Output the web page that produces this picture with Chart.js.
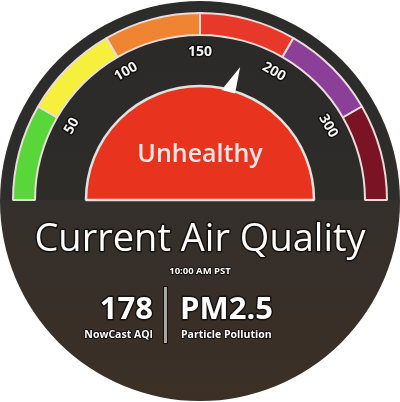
<!DOCTYPE html>
<html>
<head>
<meta charset="utf-8">
<script src="https://cdn.jsdelivr.net/npm/chart.js@4/dist/chart.umd.min.js"></script>
<style>
  html, body { margin: 0; padding: 0; background: #ffffff; }
  #wrap { width: 400px; height: 402px; position: relative; }
</style>
</head>
<body>
<div id="wrap"><canvas id="c" width="400" height="402"></canvas></div>
<script>
// ---- data ----
const categories = ['Good', 'Moderate', 'Unhealthy for Sensitive Groups', 'Unhealthy', 'Very Unhealthy', 'Hazardous'];
const breakpoints = [0, 50, 100, 150, 200, 300, 500];
const segmentSpan = [1, 1, 1, 1, 1, 1];           // each category gets an equal share of the dial
const tickLabels = ['50', '100', '150', '200', '300'];
const segmentColors = ['#58d63a', '#f6f03c', '#ef8533', '#e8382a', '#8b3f98', '#7a1424'];
const currentAQI = 178;
const currentCategory = 'Unhealthy';
const pollutantName = 'PM2.5';
const pollutantDesc = 'Particle Pollution';
const aqiLabel = 'NowCast AQI';
const titleText = 'Current Air Quality';
const timeText = '10:00 AM PST';

function outlinedText(ctx, txt, x, y, font, align, lw) {
  ctx.font = font;
  ctx.textAlign = align;
  ctx.textBaseline = 'alphabetic';
  ctx.lineJoin = 'round';
  ctx.lineWidth = lw;
  ctx.strokeStyle = '#15110e';
  ctx.strokeText(txt, x, y);
  ctx.fillStyle = '#ffffff';
  ctx.fillText(txt, x, y);
}

const facePlugin = {
  id: 'face',
  beforeDraw(chart) {
    const ctx = chart.ctx;
    ctx.save();
    const g = ctx.createLinearGradient(0, 0, 0, 402);
    g.addColorStop(0, '#2e2c2b');
    g.addColorStop(0.45, '#33302d');
    g.addColorStop(0.75, '#382f28');
    g.addColorStop(1, '#3c3026');
    ctx.fillStyle = g;
    ctx.beginPath();
    ctx.arc(200, 201, 200, 0, Math.PI * 2);
    ctx.fill();
    ctx.restore();
  },
  afterDraw(chart) {
    const ctx = chart.ctx;
    const ring = chart.getDatasetMeta(1).data;
    const cx = ring[0].x, cy = ring[0].y;
    ctx.save();
    // tick labels at category boundaries
    tickLabels.forEach((t, i) => {
      const a = ring[i].endAngle;
      const r = 148;
      ctx.save();
      ctx.translate(cx + r * Math.cos(a), cy + r * Math.sin(a));
      ctx.rotate(a + Math.PI / 2);
      ctx.font = '700 14px "Open Sans"';
      ctx.textAlign = 'center';
      ctx.textBaseline = 'middle';
      ctx.lineJoin = 'round';
      ctx.lineWidth = 3;
      ctx.strokeStyle = '#111';
      ctx.strokeText(t, 0, 0);
      ctx.fillStyle = '#f4f4f4';
      ctx.fillText(t, 0, 0);
      ctx.restore();
    });
    // pointer
    let k = 0;
    while (k < breakpoints.length - 2 && currentAQI >= breakpoints[k + 1]) k++;
    const arc = ring[k];
    const frac = (currentAQI - breakpoints[k]) / (breakpoints[k + 1] - breakpoints[k]);
    const ang = arc.startAngle + frac * (arc.endAngle - arc.startAngle);
    const tipR = 139, baseR = 112;
    ctx.fillStyle = '#ffffff';
    ctx.beginPath();
    ctx.moveTo(cx + tipR * Math.cos(ang), cy + tipR * Math.sin(ang));
    ctx.lineTo(cx + baseR * Math.cos(ang + 0.025), cy + baseR * Math.sin(ang + 0.025));
    ctx.lineTo(cx + baseR * Math.cos(ang - 0.10), cy + baseR * Math.sin(ang - 0.10));
    ctx.closePath();
    ctx.fill();
    // category text
    ctx.font = '600 25px "Open Sans"';
    ctx.textAlign = 'center';
    ctx.textBaseline = 'alphabetic';
    ctx.fillStyle = '#fde6e4';
    ctx.fillText(currentCategory, cx, 162);
    // title etc.
    outlinedText(ctx, titleText, 200, 251, '400 38px "Open Sans"', 'center', 3);
    outlinedText(ctx, timeText, 200, 274, '700 9.5px "Open Sans"', 'center', 2);
    outlinedText(ctx, String(currentAQI), 153, 319, '700 31px "Open Sans"', 'right', 3);
    outlinedText(ctx, pollutantName, 180, 319, '700 31px "Open Sans"', 'left', 3);
    outlinedText(ctx, aqiLabel, 153, 338, '700 10.5px "Open Sans"', 'right', 2);
    outlinedText(ctx, pollutantDesc, 181, 338, '700 10.5px "Open Sans"', 'left', 2);
    // divider
    ctx.fillStyle = '#15110e';
    ctx.fillRect(163, 286, 5, 58);
    ctx.fillStyle = '#aaa6a2';
    ctx.fillRect(164, 287, 3, 56);
    ctx.restore();
  }
};

new Chart(document.getElementById('c'), {
  type: 'doughnut',
  data: {
    labels: categories,
    datasets: [
      { label: 'rim', data: [1], backgroundColor: 'rgba(44,44,44,0.75)', borderWidth: 0, weight: 11, order: 2 },
      { label: 'AQI range', data: segmentSpan, backgroundColor: segmentColors, borderColor: '#eadcd9', borderWidth: 2, weight: 22, order: 0 },
      { label: 'band', data: [1], backgroundColor: 'rgba(40,39,38,0.45)', borderWidth: 0, weight: 51, order: 3 },
      { label: 'level', data: [1], backgroundColor: '#e8331f', borderColor: '#dfe3df', borderWidth: 2.5, weight: 114, order: 1 }
    ]
  },
  options: {
    responsive: false,
    animation: false,
    events: [],
    rotation: -90,
    circumference: 180,
    cutout: 0,
    radius: 198,
    clip: false,
    layout: { padding: { top: 0, left: 0, right: 0, bottom: 200 } },
    plugins: { legend: { display: false }, tooltip: { enabled: false } }
  },
  plugins: [facePlugin]
});
</script>
</body>
</html>
